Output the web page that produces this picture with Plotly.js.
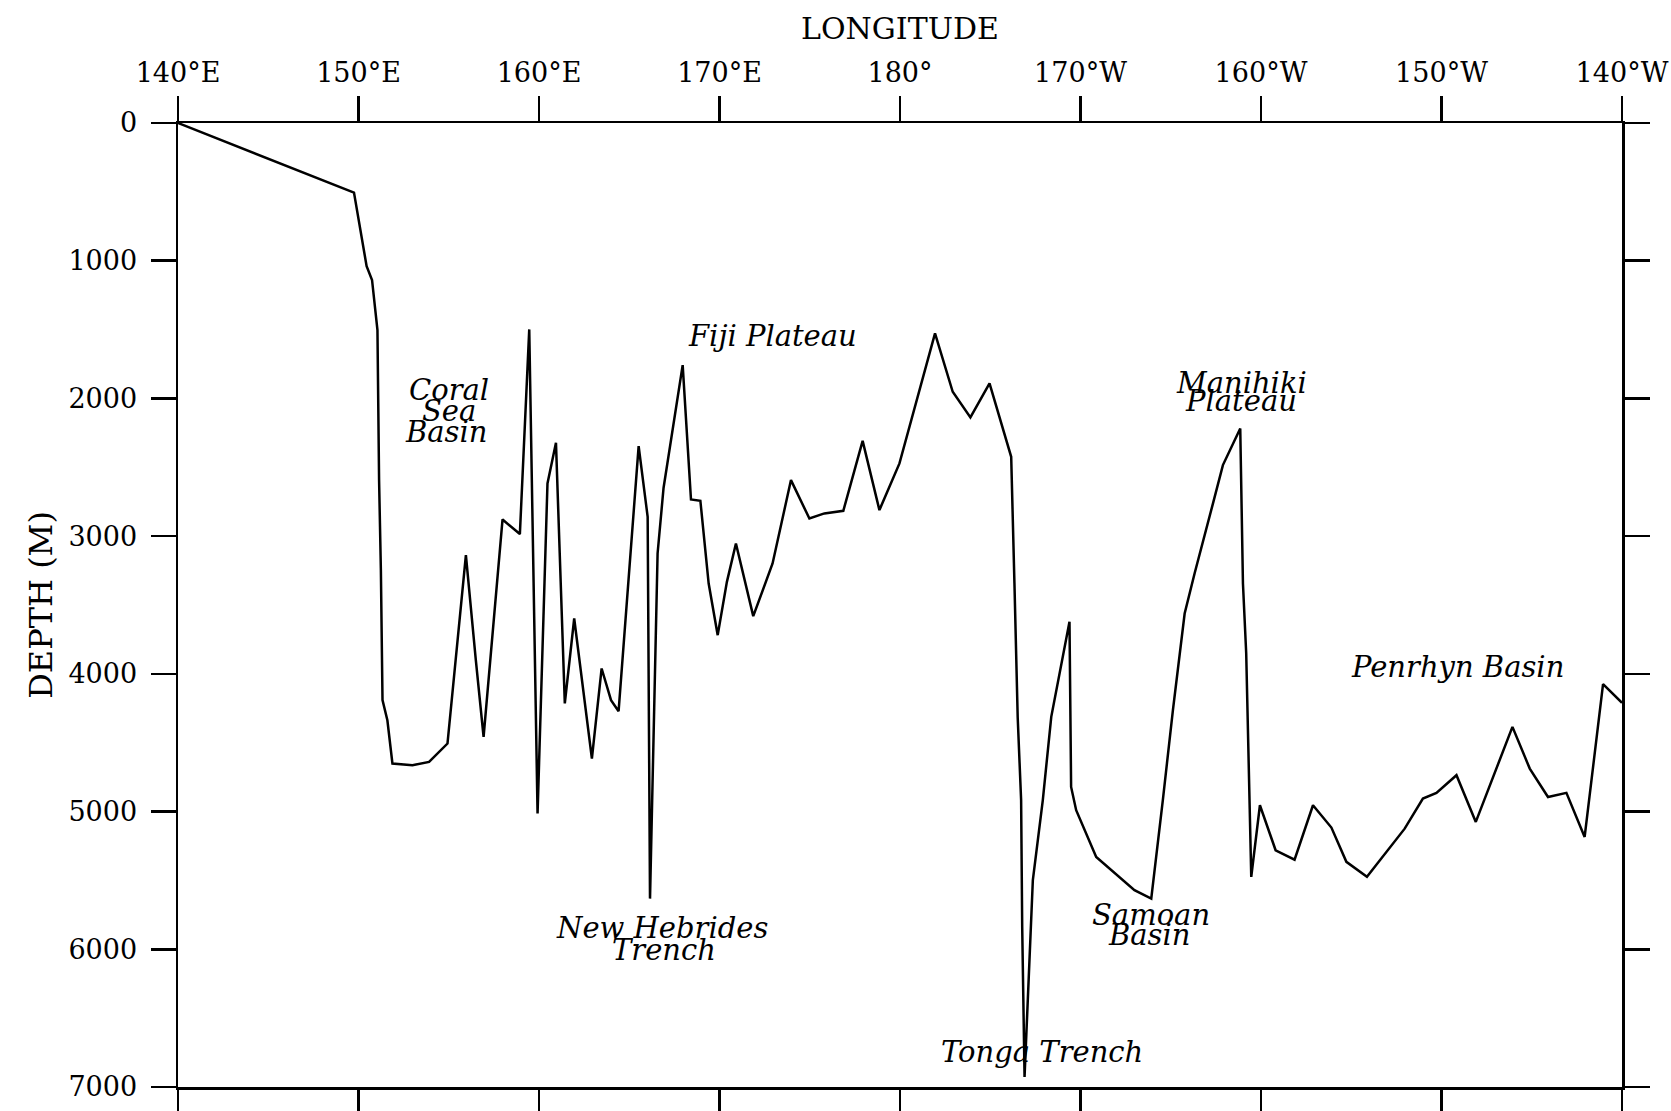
<!DOCTYPE html>
<html>
<head>
<meta charset="utf-8">
<script src="https://cdn.plot.ly/plotly-3.0.1.min.js"></script>
<style>
  html, body { margin: 0; padding: 0; background: #fff; }
  #chart { width: 1671px; height: 1111px; }
</style>
</head>
<body>
<div id="chart"></div>
<script>
// Longitude on a continuous scale: 140..180 = 140°E..180°, 190..220 = 170°W..140°W
const longitude = [
  140.0, 149.75, 150.45, 150.75, 151.05, 151.14, 151.24, 151.33, 151.6, 151.88,
  152.99, 153.91, 154.93, 155.95, 156.5, 156.93, 157.98, 158.94, 159.46, 159.92,
  160.47, 160.94, 161.43, 161.95, 162.93, 163.47, 163.99, 164.41, 165.52, 166.02,
  166.15, 166.57, 166.9, 167.96, 168.42, 168.94, 169.4, 169.9, 170.41, 170.91,
  171.87, 172.94, 173.96, 174.98, 175.81, 176.86, 177.93, 178.86, 179.97, 181.94,
  182.92, 183.9, 184.96, 185.84, 186.16, 186.34, 186.44, 186.52, 186.71, 186.77,
  186.9, 187.36, 187.91, 188.38, 189.39, 189.48, 189.76, 190.87, 192.99, 193.92,
  194.56, 195.12, 195.77, 196.32, 197.34, 197.89, 198.85, 199.0, 199.18, 199.37,
  199.46, 199.94, 200.81, 201.86, 202.88, 203.9, 204.73, 205.87, 206.95, 207.96,
  208.97, 209.72, 210.83, 211.9, 213.93, 214.89, 215.9, 216.92, 217.93, 218.95,
  220.0
];
const depth = [
  0, 505, 1040, 1140, 1504, 2593, 3247, 4191, 4337, 4651,
  4663, 4639, 4506, 3138, 3901, 4458, 2879, 2985, 1499, 5014,
  2617, 2322, 4215, 3598, 4615, 3961, 4191, 4271, 2346, 2860,
  5632, 3126, 2650, 1758, 2734, 2743, 3344, 3719, 3332, 3053,
  3581, 3198, 2593, 2872, 2835, 2816, 2308, 2811, 2472, 1528,
  1952, 2138, 1891, 2279, 2424, 3341, 3828, 4315, 4918, 5838,
  6927, 5497, 4918, 4312, 3622, 4821, 4990, 5329, 5571, 5632,
  4918, 4264, 3562, 3271, 2762, 2484, 2218, 3344, 3850, 4918,
  5474, 4954, 5281, 5349, 4954, 5116, 5365, 5474, 5293, 5124,
  4905, 4864, 4736, 5075, 4385, 4688, 4894, 4864, 5184, 4075,
  4210
];

const lonTickVals = [140, 150, 160, 170, 180, 190, 200, 210, 220];
const lonTickText = ['140°E', '150°E', '160°E', '170°E', '180°', '170°W', '160°W', '150°W', '140°W'];
const depthTickVals = [0, 1000, 2000, 3000, 4000, 5000, 6000, 7000];

const labelText = ['Fiji Plateau', 'Coral', 'Sea', 'Basin', 'New Hebrides', 'Trench',
                   'Tonga Trench', 'Samoan', 'Basin', 'Manihiki', 'Plateau', 'Penrhyn Basin'];
const labelLon  = [172.93, 155.02, 155.02, 154.86, 166.83, 166.94, 187.89, 193.88, 193.82, 198.9, 198.9, 210.9];
const labelDepth= [1547, 1939, 2092, 2245, 5847, 6007, 6748, 5753, 5898, 1889, 2019, 3951];

const serif = 'DejaVu Serif, Liberation Serif, serif';

const trace = {
  x: longitude,
  y: depth,
  type: 'scatter',
  mode: 'lines',
  line: { color: '#000', width: 2.5 },
  hoverinfo: 'skip'
};

const annotations = labelText.map((t, i) => ({
  x: labelLon[i], y: labelDepth[i], xref: 'x', yref: 'y',
  text: '<i>' + t + '</i>', showarrow: false,
  xanchor: 'center', yanchor: 'middle',
  font: { family: serif, size: 29, color: '#000' }
}));

const axisCommon = {
  showline: true, linecolor: '#000', linewidth: 2.5,
  ticks: 'outside', ticklen: 25, tickwidth: 2.5, tickcolor: '#000',
  mirror: 'allticks', showgrid: false, zeroline: false,
  tickfont: { family: serif, size: 27, color: '#000' }
};

const layout = {
  width: 1671, height: 1111,
  paper_bgcolor: '#fff', plot_bgcolor: '#fff',
  margin: { l: 178, r: 49, t: 123, b: 24 },
  showlegend: false,
  xaxis: Object.assign({}, axisCommon, {
    side: 'top', range: [140, 220],
    tickmode: 'array', tickvals: lonTickVals, ticktext: lonTickText,
    ticklabelstandoff: 3,
    title: { text: 'LONGITUDE', font: { family: serif, size: 30, color: '#000' }, standoff: 8 }
  }),
  yaxis: Object.assign({}, axisCommon, {
    range: [7000, 0],
    tickmode: 'array', tickvals: depthTickVals,
    ticklabelstandoff: 8,
    title: { text: 'DEPTH (M)', font: { family: serif, size: 32, color: '#000' }, standoff: 6 }
  }),
  annotations: annotations
};

Plotly.newPlot('chart', [trace], layout, { staticPlot: true, displayModeBar: false });
</script>
</body>
</html>
